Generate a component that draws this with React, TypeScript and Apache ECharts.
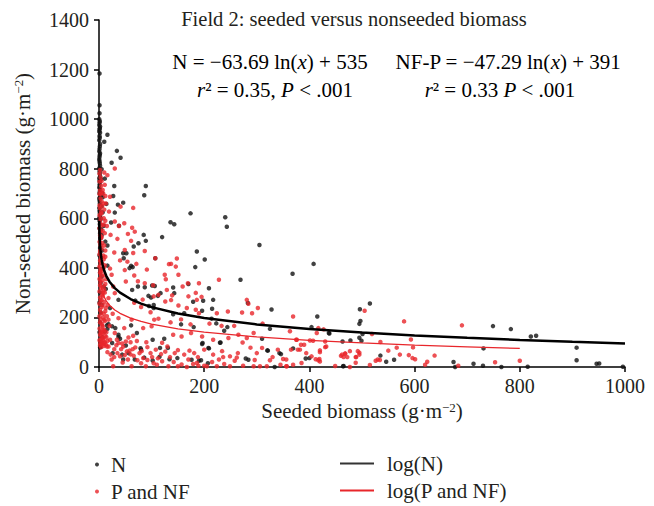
import React, { useEffect, useRef } from "react";
import * as echarts from "echarts";

const FONT = "'Liberation Serif', 'DejaVu Serif', serif";
const TXT = "#231f20";
const RED = "#e8262b";
const BLACK = "#111111";

const TITLE = "Field 2: seeded versus nonseeded biomass";
const X_NAME = "Seeded biomass (g·m";
const Y_NAME = "Non-seeded biomass (g·m";
const SERIES_NAMES = ["N", "P and NF", "log(N)", "log(P and NF)"];

// regression coefficients shown on the chart: y = a ln(x) + b
const N_FIT = { a: -63.69, b: 535, xMax: 1000 };
const P_FIT = { a: -47.29, b: 391, xMax: 800 };
const FIT_X = [0.42, 0.5, 0.7, 1, 1.5, 2, 3, 4, 5, 7, 10, 14, 20, 30, 40, 60, 80, 100, 150, 200, 300, 400, 500, 600, 700, 800, 900, 1000];

// N (black) points [seeded, non-seeded]
const nPoints: [number, number][] = [
  [1, 1184], [1, 1056], [1, 1024], [1, 985], [2, 970], [1, 958], [2, 945], [1, 932], [2, 900], [1, 880], [2, 862], [1, 848], [1, 830], [2, 812], [1, 790], [2, 770], [1, 752], [1, 735], [2, 715], [1, 700], [3, 690], [1, 672], [2, 650], [1, 630], [2, 610], [1, 590], [1, 560], [2, 540], [3, 520], [2, 480], [1, 450], [3, 420], [2, 380], [3, 340], [2, 300], [1, 260], [3, 220], [2, 180], [1, 140], [3, 100], [2, 80],
  [0.5, 1000], [1.5, 992], [0.5, 976], [1.5, 963], [0.5, 950], [1.5, 925], [0.5, 915], [1.5, 890], [0.5, 870], [1.5, 856], [0.5, 838], [1.5, 822], [0.5, 802], [1.5, 781], [0.5, 762], [1.5, 744], [0.5, 724], [1.5, 707], [0.5, 681], [1.5, 661], [0.5, 641], [1.5, 621], [0.5, 601], [1.5, 576], [4, 556], [5, 532], [4, 598], [5, 648], [6, 702], [4, 758], [5, 798], [6, 470], [4, 395], [5, 250], [6, 120],
  [16, 937], [10, 909], [34, 872], [41, 844], [24, 824], [11, 760], [29, 730], [89, 730], [86, 693], [27, 690], [46, 663], [36, 655], [14, 658], [7, 685], [7, 624], [30, 623], [23, 583], [9, 570], [174, 620], [240, 604], [243, 566], [136, 584], [143, 576], [120, 524], [85, 533], [89, 509], [75, 499], [12, 506], [38, 570], [16, 490], [66, 486], [46, 459], [52, 459], [47, 439], [61, 408], [58, 399], [64, 403], [183, 403], [201, 434], [186, 466], [107, 439], [305, 492], [269, 352], [368, 376], [408, 416], [415, 204], [404, 161], [328, 232], [283, 258], [437, 137], [325, 154], [310, 114], [320, 67], [346, 52], [369, 75], [400, 36], [334, 0], [464, 3], [463, 103], [478, 107], [438, 135], [515, 256], [496, 233], [497, 186], [495, 174], [501, 133], [495, 118], [499, 106], [535, 46], [546, 21], [561, 29], [465, 4], [674, 20], [677, 0], [712, 13], [730, 5], [749, 165], [783, 153], [731, 75], [765, 0], [821, 123], [831, 126], [815, 1], [908, 78], [908, 27], [946, 13], [951, 14], [996, 1],
  [214, 195], [215, 235], [209, 318], [217, 271], [95, 246], [104, 250], [99, 280], [101, 329], [143, 298], [141, 321], [170, 335], [179, 263], [198, 267], [238, 146], [244, 161], [321, 66], [343, 56], [279, 34], [393, 34], [194, 27], [196, 93], [208, 77], [230, 98], [124, 114], [131, 77], [102, 110], [72, 137], [61, 168], [37, 121], [40, 114], [18, 173], [16, 154], [51, 87], [56, 56], [68, 30], [46, 30], [80, 70], [86, 38], [102, 26], [134, 31], [149, 36], [37, 271], [13, 315], [5, 365], [16, 409], [21, 238], [63, 311], [26, 56], [112, 287], [141, 213], [162, 217], [156, 172], [196, 227], [223, 176], [180, 161], [231, 99], [209, 75], [197, 97], [116, 77], [115, 41], [176, 29], [190, 25], [207, 15], [284, 29], [106, 327], [87, 322], [74, 325], [117, 298], [94, 287], [104, 238], [69, 268], [9, 325], [15, 168], [11, 143], [25, 164], [31, 157], [37, 130], [79, 76], [44, 50], [25, 97], [3, 80],
];

// P and NF (red) points [seeded, non-seeded]
const pPoints: [number, number][] = [
  [2, 795], [1, 780], [3, 765], [1, 748], [4, 730], [2, 712], [1, 698], [3, 680], [5, 668], [1, 652], [2, 640], [4, 625], [1, 612], [3, 598], [2, 585], [6, 572], [1, 560], [3, 548], [2, 532], [4, 520], [1, 505], [3, 492], [5, 480], [2, 468], [1, 455], [4, 442], [2, 430], [6, 418], [1, 405], [3, 392], [2, 380], [5, 368], [1, 355], [3, 342], [2, 330], [4, 318], [1, 305], [6, 292], [2, 280], [3, 268], [1, 255], [5, 242], [2, 230], [4, 218], [1, 205], [3, 192], [2, 180], [6, 168], [1, 155], [3, 142], [2, 130], [5, 118], [1, 108], [3, 96], [2, 88], [4, 80], [7, 92], [8, 110], [6, 132], [7, 150], [8, 200], [7, 250], [8, 300], [7, 350], [9, 400], [8, 450], [6, 500], [7, 550], [9, 600], [6, 650], [8, 700], [5, 750],
  [10, 785], [11, 735], [12, 690], [10, 635], [12, 590], [11, 540], [10, 490], [12, 445], [11, 410], [10, 370], [12, 335], [11, 300], [10, 262], [12, 225], [11, 185], [10, 150], [12, 125], [11, 100], [9, 85], [13, 90], [4, 110], [6, 98], [9, 140], [5, 175], [9, 215], [5, 270], [9, 325], [5, 385], [9, 435], [5, 525], [9, 575], [5, 620], [9, 660], [4, 700], [14, 120], [16, 105], [14, 140], [15, 205], [16, 250], [14, 355],
  [30, 801], [16, 774], [7, 714], [21, 687], [13, 660], [65, 642], [41, 647], [19, 627], [30, 587], [48, 580], [63, 562], [38, 569], [15, 569], [55, 537], [35, 517], [61, 509], [68, 546], [22, 533], [87, 468], [49, 472], [65, 460], [29, 462], [12, 470], [107, 439], [137, 416], [148, 438], [146, 405], [133, 415], [40, 430], [54, 425], [71, 416], [91, 393], [67, 369], [49, 391], [21, 397], [24, 372], [51, 345], [74, 346], [87, 338], [103, 330], [125, 372], [127, 354], [151, 372], [169, 338], [190, 338], [228, 352], [159, 325], [129, 311], [113, 291], [139, 289], [170, 285], [184, 299], [186, 271], [195, 283], [151, 248], [126, 264], [137, 270], [167, 238], [184, 231], [190, 217], [224, 217], [281, 271], [284, 255], [291, 217], [302, 238], [272, 220], [245, 224], [104, 285], [83, 272], [67, 259], [80, 242], [98, 221], [113, 195], [136, 180], [156, 192], [174, 172], [210, 175], [233, 166], [257, 166], [311, 175], [369, 204], [363, 144], [375, 110], [384, 90], [401, 107], [414, 137], [432, 83], [419, 32], [404, 43], [394, 56], [378, 70], [356, 30], [345, 9], [300, 56], [310, 77], [288, 78], [264, 56], [249, 43], [234, 64], [217, 50], [200, 70], [181, 56], [162, 50], [144, 56], [130, 83], [141, 130], [157, 123], [175, 137], [196, 123], [217, 110], [246, 117], [265, 130], [281, 117], [294, 137], [273, 99], [228, 30], [200, 5], [189, 5], [167, 0], [179, 12], [205, 3], [224, 3], [249, 3], [274, 5], [294, 3], [319, 3], [357, 3], [369, 9], [385, 16], [132, 3], [110, 9], [135, 40], [120, 23], [98, 56], [84, 36], [77, 56], [64, 72], [53, 63], [42, 72], [35, 56], [29, 40], [40, 43], [49, 48], [60, 51], [73, 27], [62, 3], [27, 3], [89, 3], [101, 40], [65, 126], [72, 105], [56, 119], [51, 103], [30, 137], [21, 110], [18, 83], [10, 97], [48, 157], [84, 157], [62, 191], [100, 164], [105, 191], [37, 197], [26, 215], [13, 238], [18, 278], [30, 298], [27, 325], [10, 311], [7, 285], [10, 191], [7, 164], [4, 137], [8, 117], [18, 191], [20, 166], [37, 97], [29, 72], [15, 83],
  [33, 88], [46, 82], [58, 66], [69, 79], [81, 64], [92, 80], [108, 70], [118, 52], [126, 62], [150, 68], [172, 66], [188, 40], [55, 30], [66, 45], [92, 28], [112, 35], [142, 20], [157, 10], [170, 30], [215, 20], [238, 12], [258, 25], [45, 18], [80, 15], [104, 15], [150, 3], [186, 16], [236, 40], [262, 38], [296, 28], [330, 40], [340, 70], [22, 50], [16, 60], [24, 30], [34, 110], [44, 95], [60, 100], [90, 100], [120, 98],
  [505, 227], [519, 133], [580, 184], [690, 168], [593, 111], [597, 79], [535, 101], [566, 78], [550, 66], [572, 50], [589, 48], [596, 36], [601, 31], [638, 46], [624, 21], [620, 9], [526, 25], [530, 30], [534, 28], [515, 8], [477, 0], [449, 4], [488, 17], [488, 40], [492, 64], [495, 50], [460, 45], [465, 40], [468, 55], [462, 50], [477, 64], [430, 80], [420, 60], [420, 22], [427, 152], [683, 5], [753, 19], [800, 25], [417, 157], [376, 110], [407, 106], [430, 103], [420, 67], [468, 53], [472, 40], [489, 40], [495, 58], [350, 32], [356, 3], [325, 27], [306, 3], [382, 70], [365, 70], [390, 90], [412, 31], [417, 27],
];

function fitLine(fit: { a: number; b: number; xMax: number }) {
  return FIT_X.filter((x) => x <= fit.xMax).map((x) => [x, fit.a * Math.log(x) + fit.b]);
}

const FS = 21;
const TICK_FS = 20;
const tok = (extra: any = {}) => ({ fontFamily: FONT, fontSize: FS, color: TXT, ...extra });

export default function App() {
  const ref = useRef<HTMLDivElement>(null);
  useEffect(() => {
    if (!ref.current) return;
    const chart = echarts.init(ref.current, undefined, { renderer: "svg" });
    const eqRich = {
      n: tok(),
      i: tok({ fontStyle: "italic" }),
    };
    const supRich = {
      n: tok(),
      sup: tok({ fontSize: 13, verticalAlign: "top", lineHeight: 14, padding: [0, 0, 9, 0] }),
    };
    const eqText = (x: number, y: number, text: string) => ({
      type: "text",
      x,
      y,
      style: { text, rich: eqRich, fontFamily: FONT, fontSize: FS, align: "center", verticalAlign: "middle" },
    });
    const dotLegend = (name: string, top: number) => ({
      data: [{ name, icon: "circle" }],
      orient: "vertical",
      left: 90,
      top,
      itemWidth: 18,
      itemHeight: 4,
      textStyle: { fontFamily: FONT, fontSize: FS, color: TXT },
    });
    const lineLegend = (name: string, top: number) => ({
      data: [{ name, icon: "rect" }],
      orient: "vertical",
      left: 335,
      top,
      itemWidth: 34,
      itemHeight: 2,
      textStyle: { fontFamily: FONT, fontSize: FS, color: TXT, padding: [0, 0, 0, 8] },
    });
    chart.setOption({
      animation: false,
      backgroundColor: "#ffffff",
      textStyle: { fontFamily: FONT, color: TXT },
      grid: { left: 99, right: 29, top: 20, bottom: 139, containLabel: false },
      xAxis: {
        type: "value",
        min: 0,
        max: 1000,
        interval: 200,
        name: `{n|${X_NAME}}{sup|−2}{n|)}`,
        nameLocation: "middle",
        nameGap: 31,
        nameTextStyle: { rich: supRich, fontFamily: FONT, fontSize: FS, color: TXT },
        axisLine: { lineStyle: { color: "#000", width: 1.5 } },
        axisTick: { length: 5, lineStyle: { color: "#000", width: 1.5 } },
        axisLabel: { fontFamily: FONT, fontSize: TICK_FS, color: TXT, margin: 9, formatter: (v: number) => String(v) },
        splitLine: { show: false },
      },
      yAxis: {
        type: "value",
        min: 0,
        max: 1400,
        interval: 200,
        name: `{n|${Y_NAME}}{sup|−2}{n|)}`,
        nameLocation: "middle",
        nameRotate: 90,
        nameGap: 66,
        nameTextStyle: { rich: supRich, fontFamily: FONT, fontSize: FS, color: TXT },
        axisLine: { show: true, lineStyle: { color: "#000", width: 1.5 } },
        axisTick: { show: true, length: 5, lineStyle: { color: "#000", width: 1.5 } },
        axisLabel: { fontFamily: FONT, fontSize: TICK_FS, color: TXT, margin: 10, formatter: (v: number) => String(v) },
        splitLine: { show: false },
      },
      legend: [
        dotLegend(SERIES_NAMES[0], 449),
        dotLegend(SERIES_NAMES[1], 476),
        lineLegend(SERIES_NAMES[2], 448),
        lineLegend(SERIES_NAMES[3], 475),
      ],
      graphic: [
        {
          type: "text",
          x: 354,
          y: 19,
          style: { text: TITLE, fontFamily: FONT, fontSize: 20.5, fill: TXT, align: "center", verticalAlign: "middle" },
        },
        eqText(270, 62, "{n|N = −63.69 ln(}{i|x}{n|) + 535}"),
        eqText(508, 62, "{n|NF-P = −47.29 ln(}{i|x}{n|) + 391}"),
        eqText(275, 90, "{i|r}{n|² = 0.35, }{i|P}{n| < .001}"),
        eqText(500, 90, "{i|r}{n|² = 0.33 }{i|P}{n| < .001}"),
      ],
      series: [
        {
          name: SERIES_NAMES[0],
          type: "scatter",
          data: nPoints,
          symbol: "circle",
          symbolSize: 4.5,
          itemStyle: { color: BLACK },
          z: 2,
        },
        {
          name: SERIES_NAMES[1],
          type: "scatter",
          data: pPoints,
          symbol: "circle",
          symbolSize: 4.5,
          itemStyle: { color: RED },
          z: 2,
        },
        {
          name: SERIES_NAMES[2],
          type: "line",
          data: fitLine(N_FIT),
          symbol: "none",
          smooth: false,
          lineStyle: { color: "#000", width: 2.5 },
          itemStyle: { color: "#333" },
          z: 3,
        },
        {
          name: SERIES_NAMES[3],
          type: "line",
          data: fitLine(P_FIT),
          symbol: "none",
          smooth: false,
          lineStyle: { color: RED, width: 1.3 },
          itemStyle: { color: RED },
          z: 3,
        },
      ],
    });
    return () => chart.dispose();
  }, []);
  return <div ref={ref} style={{ position: "absolute", left: 0, top: 0, width: 654, height: 506 }} />;
}
